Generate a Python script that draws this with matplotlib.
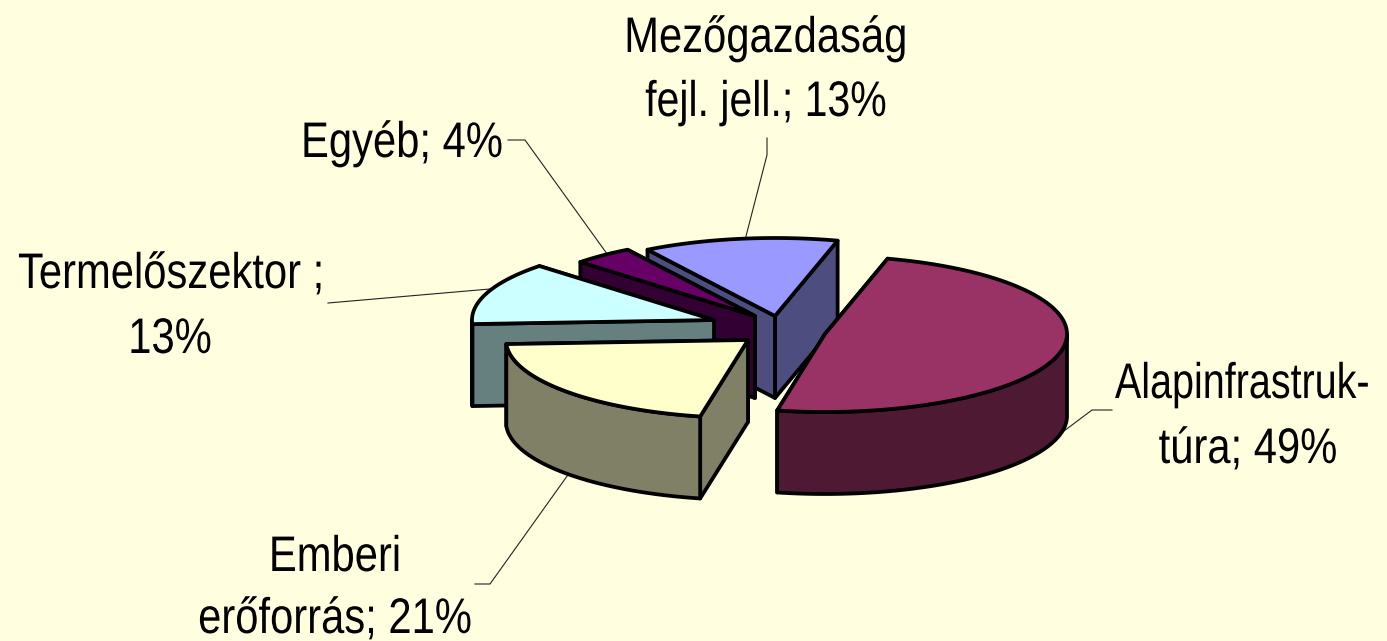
"""Exploded 3D-look pie chart, drawn on a pixel-sized axes."""
import numpy as np
import matplotlib
matplotlib.use("Agg")
import matplotlib.pyplot as plt
from matplotlib.patches import Polygon
from matplotlib.patheffects import AbstractPathEffect
from matplotlib.transforms import Affine2D

BG = "#FFFFE0"
values = [49, 21, 13, 4, 13]
top_colors = ["#993366", "#FFFFCC", "#CCFFFF", "#660066", "#9999FF"]
side_colors = ["#4D1933", "#808066", "#668080", "#330033", "#4D4D80"]
# apex of each exploded slice, in pixels
apex_x = [825, 748, 714, 755, 775]
apex_y = [334, 340, 320, 316, 316]
draw_order = [4, 3, 2, 1, 0]

label_lines = ["Mezőgazdaság", "fejl. jell.; 13%", "Egyéb; 4%", "Termelőszektor ;", "13%",
               "Alapinfrastruk-", "túra; 49%", "Emberi", "erőforrás; 21%"]
line_x = [766, 766, 402, 18, 170, 1370, 1248, 335, 335]
line_y = [52, 116, 157, 288, 353, 398, 463, 571, 633]
line_ha = ["center", "center", "center", "left", "center", "right", "center", "center", "center"]
line_squeeze = [0.835, 0.82, 0.835, 0.835, 0.835, 0.79, 0.835, 0.835, 0.835]

START = 75.0
RX, RY = 242, 78
DEPTH = 82

plt.rcParams["font.family"] = ["Liberation Sans"]


class Narrow(AbstractPathEffect):
    """Squeeze text sideways around its anchor, no narrow font is installed."""

    def __init__(self, cx, factor):
        super().__init__()
        self.cx = cx
        self.factor = factor

    def draw_path(self, renderer, gc, tpath, affine, rgbFace=None):
        squeeze = Affine2D().translate(-self.cx, 0).scale(self.factor, 1).translate(self.cx, 0)
        renderer.draw_path(gc, tpath, affine + squeeze, rgbFace)


fig = plt.figure(figsize=(13.87, 6.41), dpi=100, facecolor=BG)
ax = fig.add_axes([0, 0, 1, 1])
ax.set_xlim(0, 1387)
ax.set_ylim(641, 0)
ax.axis("off")


def rim(cx, cy, t1, t2, dy=0):
    t = np.radians(np.linspace(t1, t2, 80))
    return np.column_stack([cx + RX * np.cos(t), cy - RY * np.sin(t) + dy])


def face(pts, color, z):
    ax.add_patch(Polygon(pts, closed=True, facecolor=color, edgecolor="black",
                         lw=2.7, joinstyle="round", zorder=z))


# leader lines sit under the pie
leaders = [
    ([1112, 1092, 1060], [410, 410, 434]),
    ([475, 490, 570], [584, 584, 472]),
    ([328, 490], [303, 289]),
    ([508, 525, 610], [140, 140, 258]),
    ([767, 767, 745], [138, 155, 240]),
]
for xs, ys in leaders:
    ax.plot(xs, ys, color="#222222", lw=0.8, zorder=1)

ends = START - np.cumsum(values) * 3.6
starts = np.r_[START, ends[:-1]]

z = 2
for i in draw_order:
    cx, cy = apex_x[i], apex_y[i]
    t1, t2 = starts[i], ends[i]
    side = side_colors[i]
    # radial walls, the one whose rim point is higher goes first
    walls = sorted([t1, t2], key=lambda a: -np.sin(np.radians(a)))
    for a in walls:
        px = rim(cx, cy, a, a)[0]
        face([(cx, cy), px, (px[0], px[1] + DEPTH), (cx, cy + DEPTH)], side, z)
        z += 1
    # outer wall, only the part that faces the viewer
    lo, hi = max(t2, -180.0), min(t1, 0.0)
    if hi > lo:
        upper = rim(cx, cy, hi, lo)
        lower = rim(cx, cy, lo, hi, DEPTH)
        face(np.vstack([upper, lower]), side, z)
        z += 1
    face(np.vstack([[(cx, cy)], rim(cx, cy, t1, t2)]), top_colors[i], z)
    z += 1

for s, x, y, ha, f in zip(label_lines, line_x, line_y, line_ha, line_squeeze):
    ax.text(x, y, s, ha=ha, va="baseline", fontsize=36, color="black",
            zorder=100, path_effects=[Narrow(x, f)])

fig.savefig("out.png", dpi=100, facecolor=BG)
